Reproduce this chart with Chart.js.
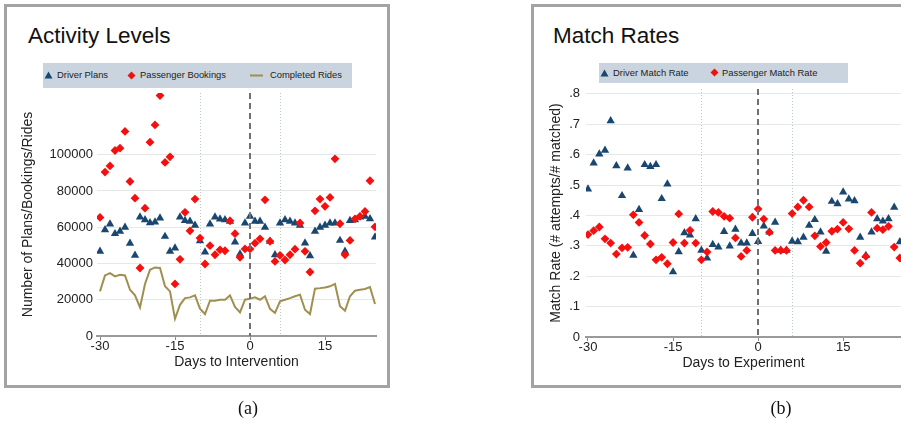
<!DOCTYPE html>
<html>
<head>
<meta charset="utf-8">
<script src="https://cdn.jsdelivr.net/npm/chart.js@4.4.1/dist/chart.umd.min.js"></script>
<style>
  body { margin: 0; width: 901px; height: 430px; overflow: hidden; background: #fff; position: relative;
         font-family: "Liberation Sans", Arial, sans-serif; color: #222; }
  .frame { position: absolute; top: 4px; width: 386px; height: 384px; box-sizing: border-box;
           border: 3px solid #a3a3a3; background: #fff; }
  .title { position: absolute; font-size: 22.5px; line-height: 1; color: #111; white-space: nowrap; }
  .legend { position: absolute; background: #c9d4df; font-size: 9.4px; color: #222; }
  .legend span, .legend svg { position: absolute; white-space: nowrap; }
  canvas { position: absolute; top: 0; }
  .cap { position: absolute; top: 398px; width: 60px; text-align: center;
         font-family: "Liberation Serif", "DejaVu Serif", serif; font-size: 18px; color: #111; }
</style>
</head>
<body>
<div class="frame" style="left:4px"></div>
<div class="frame" style="left:531px"></div>

<div class="title" style="left:28px; top:25px">Activity Levels</div>
<div class="title" style="left:553px; top:25px">Match Rates</div>

<div class="legend" style="left:43px; top:63px; width:309px; height:25px">
  <svg style="left:1px; top:8px" width="9" height="8"><polygon points="4.5,0.5 8.5,7.5 0.5,7.5" fill="#1a476f"/></svg>
  <span style="left:14px; top:6px">Driver Plans</span>
  <svg style="left:84px; top:8px" width="9" height="9"><polygon points="4.5,0.5 8.5,4.5 4.5,8.5 0.5,4.5" fill="#f20f0f"/></svg>
  <span style="left:97px; top:6px">Passenger Bookings</span>
  <svg style="left:207px; top:11px" width="13" height="3"><line x1="0" y1="1.5" x2="13" y2="1.5" stroke="#a08f4f" stroke-width="2"/></svg>
  <span style="left:227px; top:6px">Completed Rides</span>
</div>

<div class="legend" style="left:599px; top:63px; width:249px; height:20px">
  <svg style="left:1px; top:6px" width="9" height="8"><polygon points="4.5,0.5 8.5,7.5 0.5,7.5" fill="#1a476f"/></svg>
  <span style="left:14px; top:4px">Driver Match Rate</span>
  <svg style="left:111px; top:5px" width="9" height="9"><polygon points="4.5,0.5 8.5,4.5 4.5,8.5 0.5,4.5" fill="#f20f0f"/></svg>
  <span style="left:123px; top:4px">Passenger Match Rate</span>
</div>

<canvas id="chartA" width="460" height="430" style="left:0px"></canvas>
<canvas id="chartB" width="520" height="430" style="left:460px"></canvas>

<div class="cap" style="left:218px">(a)</div>
<div class="cap" style="left:751px">(b)</div>

<script>
// days relative to the intervention / experiment
const days = [-30, -29, -28, -27, -26, -25, -24, -23, -22, -21, -20, -19, -18, -17, -16, -15, -14, -13, -12, -11,
              -10, -9, -8, -7, -6, -5, -4, -3, -2, -1, 0, 1, 2, 3, 4, 5, 6, 7, 8, 9,
              10, 11, 12, 13, 14, 15, 16, 17, 18, 19, 20, 21, 22, 23, 24, 25];

// panel (a) Activity Levels
const driverPlans = [46700, 58600, 61700, 56400, 57700, 59900, 51100, 44500, 65600, 64100, 62400, 62800, 65000, 54900, 46700, 48500, 65600, 63700, 63200, 61000,
                     52500, 46300, 61700, 65600, 64500, 64100, 63200, 51800, 45200, 62300, 66000, 63200, 63200, 59900, 52200, 44800, 62300, 64100, 63200, 62300,
                     61000, 51200, 44200, 57700, 59900, 61000, 62300, 62300, 52700, 46700, 63700, 64100, 65600, 66000, 64600, 54500];
const passengerBookings = [65400, 90400, 93800, 102300, 103600, 112800, 85200, 76000, 37500, 70500, 106900, 116400, 132600, 95700, 98800, 28700, 42300, 68200, 58000, 75500,
                           54000, 39700, 49800, 44800, 47500, 47000, 63500, 56400, 43400, 48000, 48000, 51200, 53600, 75100, 52200, 41100, 44500, 41900, 44800, 47900,
                           62300, 46700, 35300, 69000, 75500, 71500, 76400, 97700, 61900, 44800, 52700, 64600, 66000, 68700, 85600, 60200];
const completedRides = [24600, 33400, 34700, 32900, 33800, 33400, 25500, 22400, 15800, 28700, 36500, 37800, 37500, 27400, 24600, 9500, 17200, 20900, 21300, 22400,
                        15000, 12100, 19500, 19500, 20000, 20000, 22400, 16000, 13000, 20000, 20600, 21300, 20000, 21900, 15000, 12700, 19100, 20000, 20900, 21900,
                        22800, 14500, 12100, 26100, 26400, 26800, 27400, 28700, 16400, 13900, 21900, 25000, 25500, 25900, 27000, 17600];

// panel (b) Match Rates
const driverMatch = [0.487, 0.572, 0.602, 0.614, 0.711, 0.563, 0.465, 0.556, 0.269, 0.419, 0.567, 0.561, 0.567, 0.455, 0.503, 0.214, 0.280, 0.343, 0.335, 0.389,
                     0.285, 0.260, 0.304, 0.296, 0.347, 0.299, 0.354, 0.309, 0.309, 0.340, 0.314, 0.365, 0.345, 0.377, 0.285, 0.285, 0.315, 0.313, 0.328, 0.367,
                     0.386, 0.345, 0.282, 0.446, 0.438, 0.477, 0.454, 0.448, 0.328, 0.268, 0.345, 0.389, 0.381, 0.389, 0.427, 0.313];
const passengerMatch = [0.337, 0.350, 0.362, 0.323, 0.309, 0.273, 0.293, 0.295, 0.402, 0.377, 0.334, 0.306, 0.254, 0.262, 0.241, 0.311, 0.405, 0.309, 0.351, 0.309,
                        0.254, 0.280, 0.413, 0.410, 0.397, 0.391, 0.326, 0.265, 0.285, 0.394, 0.421, 0.388, 0.345, 0.285, 0.285, 0.285, 0.406, 0.428, 0.450, 0.428,
                        0.333, 0.298, 0.311, 0.348, 0.355, 0.377, 0.356, 0.285, 0.243, 0.265, 0.410, 0.358, 0.353, 0.364, 0.296, 0.260];

const xTicks = [-30, -15, 0, 15];
const yTicksA = [0, 20000, 40000, 60000, 80000, 100000];
const yTicksB = [0, 0.1, 0.2, 0.3, 0.4, 0.5, 0.6, 0.7, 0.8];
const dottedDays = [-10, 6];
const dashedDay = 0;

const navy = '#1a476f';
const red = '#f5100f';
const olive = '#a08f4f';

const toPoints = vals => vals.map((v, i) => ({x: days[i], y: v}));

const refLines = {
  id: 'refLines',
  beforeDatasetsDraw(chart) {
    const {ctx, chartArea, scales: {x}} = chart;
    ctx.save();
    ctx.strokeStyle = '#b9cbbd';
    ctx.lineWidth = 1;
    ctx.setLineDash([1, 2]);
    dottedDays.forEach(d => {
      const px = Math.round(x.getPixelForValue(d)) + 0.5;
      ctx.beginPath();
      ctx.moveTo(px, chartArea.top);
      ctx.lineTo(px, chartArea.bottom);
      ctx.stroke();
    });
    ctx.restore();
  },
  afterDatasetsDraw(chart) {
    const {ctx, chartArea, scales: {x}} = chart;
    ctx.save();
    ctx.strokeStyle = '#707070';
    ctx.lineWidth = 2;
    ctx.setLineDash([6, 4]);
    const px = Math.round(x.getPixelForValue(dashedDay));
    ctx.beginPath();
    ctx.moveTo(px, chartArea.top);
    ctx.lineTo(px, chartArea.bottom);
    ctx.stroke();
    ctx.restore();
  }
};

function makeChart(id, datasets, opts) {
  return new Chart(document.getElementById(id), {
    type: 'scatter',
    data: {datasets: datasets},
    options: {
      responsive: false,
      animation: false,
      devicePixelRatio: 1,
      layout: {padding: opts.padding},
      plugins: {legend: {display: false}, title: {display: false}, tooltip: {enabled: false}},
      scales: {
        x: {
          type: 'linear',
          min: opts.xMin,
          max: opts.xMax,
          afterBuildTicks: s => { s.ticks = xTicks.map(v => ({value: v})); },
          afterFit: s => { s.height = opts.xHeight; },
          grid: {drawOnChartArea: false, drawTicks: true, tickLength: 4, color: '#8a8a8a', lineWidth: 1},
          border: {display: true, color: '#9a9a9a', width: 2},
          ticks: {padding: -1, color: '#222', font: {family: 'Liberation Sans', size: 13}},
          title: {display: true, text: opts.xTitle, color: '#222',
                  font: {family: 'Liberation Sans', size: 14}, padding: {top: 0, bottom: opts.xTitlePad}}
        },
        y: {
          type: 'linear',
          min: 0,
          max: opts.yMax,
          afterBuildTicks: s => { s.ticks = opts.yTicks.map(v => ({value: v})); },
          afterFit: s => { s.width = opts.yWidth; },
          grid: {drawTicks: false, color: '#e5e8e8', lineWidth: 1},
          border: {display: false},
          ticks: {padding: opts.yTickPad, color: '#222', font: {family: 'Liberation Sans', size: 13},
                  callback: opts.yFormat},
          title: {display: true, text: opts.yTitle, color: '#222',
                  font: {family: 'Liberation Sans', size: 14}, padding: {top: opts.yTitlePad, bottom: 0}}
        }
      }
    },
    plugins: [refLines]
  });
}

makeChart('chartA', [
  {label: 'Passenger Bookings', data: toPoints(passengerBookings), order: 0,
   pointStyle: 'rectRot', pointRadius: 4.4, backgroundColor: red, borderColor: red, borderWidth: 0, showLine: false},
  {label: 'Driver Plans', data: toPoints(driverPlans), order: 1,
   pointStyle: 'triangle', pointRadius: 4.8, backgroundColor: navy, borderColor: navy, borderWidth: 0, showLine: false},
  {label: 'Completed Rides', data: toPoints(completedRides), order: 2,
   pointRadius: 0, showLine: true, borderColor: olive, borderWidth: 2, tension: 0}
], {
  padding: {left: 0, top: 93, right: 84, bottom: 0},
  xMin: -30.6, xMax: 25.2, xHeight: 94, yWidth: 97, yMax: 134000, yTicks: yTicksA, yTickPad: 4,
  yFormat: v => String(v),
  xTitle: 'Days to Intervention', xTitlePad: 59,
  yTitle: 'Number of Plans/Bookings/Rides', yTitlePad: 20
});

makeChart('chartB', [
  {label: 'Passenger Match Rate', data: toPoints(passengerMatch), order: 0,
   pointStyle: 'rectRot', pointRadius: 4.4, backgroundColor: red, borderColor: red, borderWidth: 0, showLine: false},
  {label: 'Driver Match Rate', data: toPoints(driverMatch), order: 1,
   pointStyle: 'triangle', pointRadius: 4.8, backgroundColor: navy, borderColor: navy, borderWidth: 0, showLine: false}
], {
  padding: {left: 0, top: 89, right: 79, bottom: 0},
  xMin: -30.35, xMax: 25.2, xHeight: 93, yWidth: 126, yMax: 0.816, yTicks: yTicksB, yTickPad: 6,
  yFormat: v => v === 0 ? '0' : String(Math.round(v * 10) / 10).replace('0.', '.'),
  xTitle: 'Days to Experiment', xTitlePad: 58,
  yTitle: 'Match Rate (# attempts/# matched)', yTitlePad: 88
});
</script>
</body>
</html>
